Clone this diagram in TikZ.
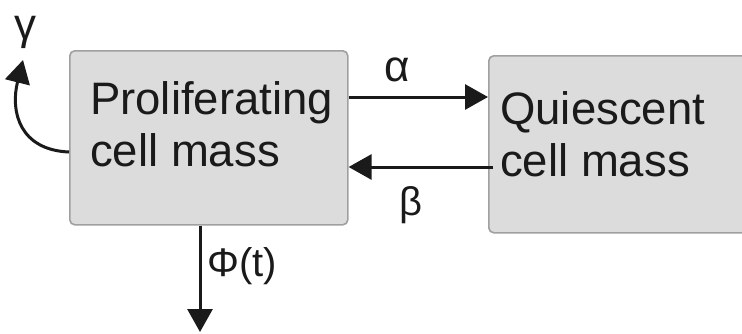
\documentclass[tikz,border=0pt]{standalone}
\usepackage{fontspec}
\setmainfont{Liberation Sans}
\usetikzlibrary{arrows.meta}
\definecolor{boxfill}{HTML}{DCDCDC}
\definecolor{boxedge}{HTML}{A0A0A0}
\definecolor{ink}{HTML}{1A1A1A}
\begin{document}
\begin{tikzpicture}[x=1pt,y=-1pt,
  mass/.style={draw=boxedge, fill=boxfill, line width=1.6pt, rounded corners=5pt,
               inner sep=0pt, anchor=north west},
  boxtext/.style={font=\fontsize{45.5}{52}\selectfont, align=left, anchor=north west,
                  inner sep=0pt, text=ink},
  greek/.style={font=\fontsize{44}{46}\selectfont, text=ink},
  flow/.style={draw=ink, line width=3pt, -{Triangle[length=23pt,width=25pt]}}]
\clip (0,0) rectangle (742,333);
\useasboundingbox (0,0) rectangle (742,333);

% compartments
\node[mass, minimum width=278pt, minimum height=174pt] (P) at (69,50) {};
\node[mass, minimum width=290pt, minimum height=177pt] (Q) at (488,55) {};
\node[boxtext] (Ptext) at (90,81) {Proliferating\\cell mass};
\node[boxtext] (Qtext) at (500,91) {Quiescent\\cell mass};

% transfer between compartments
\draw[flow] (P.east |- 0,97) -- (Q.west |- 0,97);
\draw[flow] ([xshift=5pt]Q.west |- 0,167) -- (P.east |- 0,167);

% loss and self-renewal
\coordinate (sink) at (200,332);
\draw[flow] (P.south -| sink) -- (sink);
\coordinate (regrow) at (23,60);
\draw[flow] (P.west |- 0,152) .. controls (20,150) and (10,112) .. (regrow);

% rate labels
\node[greek] (gam) at (26,32) {γ};
\node[greek] (alp) at (397,70) {α};
\node[greek, font=\fontsize{40}{42}\selectfont] (bet) at (411,205) {β};
\node[greek, font=\fontsize{40}{42}\selectfont, anchor=west] (phi) at (204,266) {Φ(t)};
\end{tikzpicture}
\end{document}
